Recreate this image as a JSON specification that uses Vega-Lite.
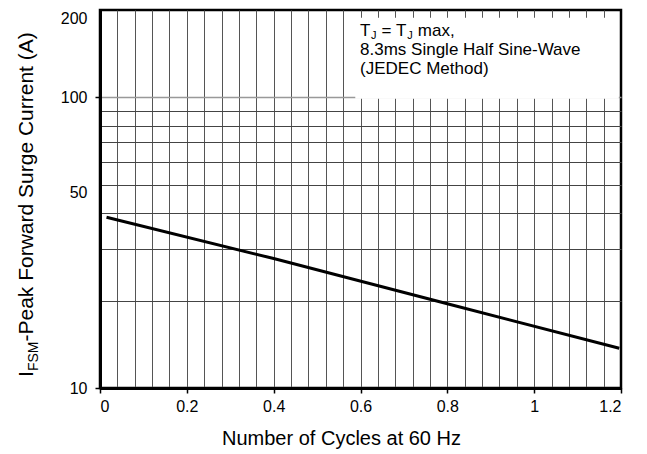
{
  "$schema": "https://vega.github.io/schema/vega-lite/v6.json",
  "autosize": {"type": "none"},
  "width": 521,
  "height": 378,
  "padding": {"left": 100, "top": 10, "right": 26, "bottom": 66},
  "background": "white",
  "config": {
    "font": "Liberation Sans",
    "view": {"stroke": "black", "strokeWidth": 2.5},
    "text": {"font": "Liberation Sans", "color": "black"},
    "axis": {"labelFont": "Liberation Sans", "titleFont": "Liberation Sans", "labelColor": "black", "titleColor": "black", "titleFontWeight": "normal"}
  },
  "datasets": {
    "curve": [
      {"cycles": 0.015, "current": 38.7},
      {"cycles": 0.4, "current": 27.9},
      {"cycles": 0.8, "current": 19.5},
      {"cycles": 1.196, "current": 13.7}
    ],
    "box": [{"x1": 0.588, "x2": 1.195, "y1": 99, "y2": 188}],
    "notes": [
      {"part": "t1", "x": 0.599, "y": 163, "label": "T"},
      {"part": "t1s", "x": 0.599, "y": 163, "label": "J"},
      {"part": "t2", "x": 0.599, "y": 163, "label": "= T"},
      {"part": "t2s", "x": 0.599, "y": 163, "label": "J"},
      {"part": "t3", "x": 0.599, "y": 163, "label": "max,"},
      {"part": "line", "x": 0.599, "y": 139.6, "label": "8.3ms Single Half Sine-Wave"},
      {"part": "line", "x": 0.599, "y": 120, "label": "(JEDEC Method)"},
      {"part": "y1", "x": -0.154, "y": 10.91, "label": "I"},
      {"part": "y1s", "x": -0.154, "y": 10.91, "label": "FSM"},
      {"part": "y2", "x": -0.154, "y": 10.91, "label": "-Peak Forward Surge Current (A)"}
    ]
  },
  "layer": [
    {
      "data": {"name": "curve"},
      "mark": {"type": "line", "opacity": 0},
      "encoding": {
        "x": {"field": "cycles", "type": "quantitative",
          "scale": {"domain": [0, 1.2], "nice": false, "zero": false},
          "axis": {"orient": "bottom", "values": [0.04,0.08,0.12,0.16,0.2,0.24,0.28,0.32,0.36,0.4,0.44,0.48,0.52,0.56,0.6,0.64,0.68,0.72,0.76,0.8,0.84,0.88,0.92,0.96,1.0,1.04,1.08,1.12,1.16],
            "grid": true, "gridColor": "#555", "gridWidth": 1, "gridOpacity": 1, "labels": false, "ticks": false, "domain": false, "title": null, "zindex": 0}},
        "y": {"field": "current", "type": "quantitative",
          "scale": {"type": "log", "domain": [10, 200], "nice": false},
          "axis": {"orient": "left", "values": [20,30,40,50,60,70,80,90,100],
            "grid": true,
            "gridColor": {"condition": {"test": "datum.value == 100", "value": "#999"}, "value": "#444"},
            "gridWidth": {"condition": {"test": "datum.value == 100", "value": 1.5}, "value": 1},
            "gridOpacity": 1, "labels": false, "ticks": false, "domain": false, "title": null, "zindex": 0}}
      }
    },
    {
      "data": {"name": "box"},
      "mark": {"type": "rect", "fill": "white", "stroke": null},
      "encoding": {
        "x": {"field": "x1", "type": "quantitative", "axis": null},
        "x2": {"field": "x2"},
        "y": {"field": "y1", "type": "quantitative", "axis": null},
        "y2": {"field": "y2"}
      }
    },
    {
      "data": {"name": "curve"},
      "mark": {"type": "line", "color": "black", "strokeWidth": 3},
      "encoding": {
        "x": {"field": "cycles", "type": "quantitative",
          "axis": {"orient": "bottom", "values": [0, 0.2, 0.4, 0.6, 0.8, 1, 1.2], "format": "~g",
            "labelFontSize": 16, "labelPadding": 5, "tickSize": 5, "tickColor": "black", "tickWidth": 1.5,
            "domain": true, "domainColor": "black", "domainWidth": 3, "grid": false,
            "title": "Number of Cycles at 60 Hz", "titleFontSize": 20, "titlePadding": 14, "titleX": 241, "titleAlign": "center",
            "zindex": 2}},
        "y": {"field": "current", "type": "quantitative",
          "axis": {"orient": "left", "values": [10, 50, 100, 200], "format": "~g",
            "labelFontSize": 16, "labelPadding": 8, "tickSize": 5, "tickColor": "black", "tickWidth": 1.5,
            "labelOffset": {"condition": {"test": "datum.value == 50 || datum.value == 200", "value": 8}, "value": 0},
            "tickOpacity": {"condition": {"test": "datum.value == 10 || datum.value == 100", "value": 1}, "value": 0},
            "domain": true, "domainColor": "black", "domainWidth": 3, "grid": false, "title": null, "zindex": 2}}
      }
    },
    {
      "data": {"name": "notes"},
      "transform": [{"filter": "datum.part == 't1'"}],
      "mark": {"type": "text", "align": "left", "baseline": "alphabetic", "fontSize": 17},
      "encoding": {"x": {"field": "x", "type": "quantitative", "axis": null}, "y": {"field": "y", "type": "quantitative", "axis": null}, "text": {"field": "label"}}
    },
    {
      "data": {"name": "notes"},
      "transform": [{"filter": "datum.part == 't1s'"}],
      "mark": {"type": "text", "align": "left", "baseline": "alphabetic", "fontSize": 11, "dx": 11, "dy": 3},
      "encoding": {"x": {"field": "x", "type": "quantitative", "axis": null}, "y": {"field": "y", "type": "quantitative", "axis": null}, "text": {"field": "label"}}
    },
    {
      "data": {"name": "notes"},
      "transform": [{"filter": "datum.part == 't2'"}],
      "mark": {"type": "text", "align": "left", "baseline": "alphabetic", "fontSize": 17, "dx": 21.5},
      "encoding": {"x": {"field": "x", "type": "quantitative", "axis": null}, "y": {"field": "y", "type": "quantitative", "axis": null}, "text": {"field": "label"}}
    },
    {
      "data": {"name": "notes"},
      "transform": [{"filter": "datum.part == 't2s'"}],
      "mark": {"type": "text", "align": "left", "baseline": "alphabetic", "fontSize": 11, "dx": 47.2, "dy": 3},
      "encoding": {"x": {"field": "x", "type": "quantitative", "axis": null}, "y": {"field": "y", "type": "quantitative", "axis": null}, "text": {"field": "label"}}
    },
    {
      "data": {"name": "notes"},
      "transform": [{"filter": "datum.part == 't3'"}],
      "mark": {"type": "text", "align": "left", "baseline": "alphabetic", "fontSize": 17, "dx": 57.8},
      "encoding": {"x": {"field": "x", "type": "quantitative", "axis": null}, "y": {"field": "y", "type": "quantitative", "axis": null}, "text": {"field": "label"}}
    },
    {
      "data": {"name": "notes"},
      "transform": [{"filter": "datum.part == 'line'"}],
      "mark": {"type": "text", "align": "left", "baseline": "alphabetic", "fontSize": 17},
      "encoding": {"x": {"field": "x", "type": "quantitative", "axis": null}, "y": {"field": "y", "type": "quantitative", "axis": null}, "text": {"field": "label"}}
    },
    {
      "data": {"name": "notes"},
      "transform": [{"filter": "datum.part == 'y1'"}],
      "mark": {"type": "text", "align": "left", "baseline": "alphabetic", "fontSize": 21, "angle": 270},
      "encoding": {"x": {"field": "x", "type": "quantitative", "axis": null}, "y": {"field": "y", "type": "quantitative", "axis": null}, "text": {"field": "label"}}
    },
    {
      "data": {"name": "notes"},
      "transform": [{"filter": "datum.part == 'y1s'"}],
      "mark": {"type": "text", "align": "left", "baseline": "alphabetic", "fontSize": 14, "angle": 270, "dx": 5.9, "dy": 5},
      "encoding": {"x": {"field": "x", "type": "quantitative", "axis": null}, "y": {"field": "y", "type": "quantitative", "axis": null}, "text": {"field": "label"}}
    },
    {
      "data": {"name": "notes"},
      "transform": [{"filter": "datum.part == 'y2'"}],
      "mark": {"type": "text", "align": "left", "baseline": "alphabetic", "fontSize": 21, "angle": 270, "dx": 35.5},
      "encoding": {"x": {"field": "x", "type": "quantitative", "axis": null}, "y": {"field": "y", "type": "quantitative", "axis": null}, "text": {"field": "label"}}
    }
  ],
  "resolve": {"axis": {"x": "independent", "y": "independent"}}
}
